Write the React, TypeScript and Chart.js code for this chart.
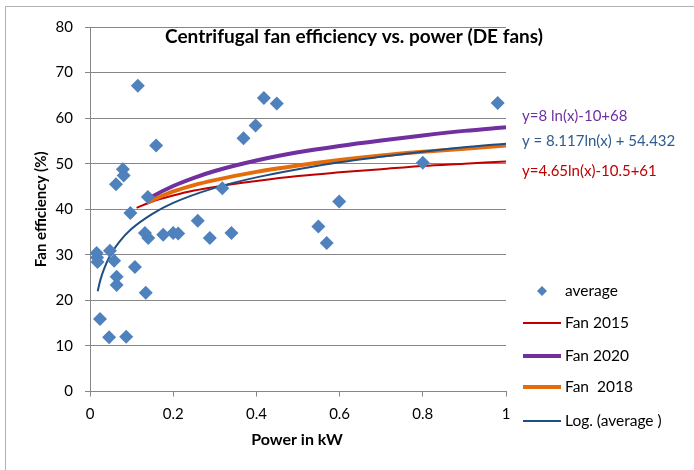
import React, { useEffect, useRef } from "react";
import { Chart, registerables } from "chart.js";

Chart.register(...registerables);

const avgX = [0.115, 0.159, 0.079, 0.081, 0.0625, 0.139, 0.097, 0.318, 0.369, 0.398, 0.418, 0.449, 0.98, 0.8, 0.599, 0.549, 0.569, 0.259, 0.288, 0.34, 0.132, 0.14, 0.176, 0.2, 0.212, 0.108, 0.134, 0.064, 0.064, 0.058, 0.048, 0.016, 0.017, 0.018, 0.024, 0.046, 0.087];
const avgY = [67.1, 54.0, 48.8, 47.4, 45.5, 42.7, 39.2, 44.6, 55.6, 58.4, 64.4, 63.2, 63.3, 50.2, 41.7, 36.2, 32.6, 37.5, 33.7, 34.8, 34.8, 33.7, 34.4, 34.8, 34.7, 27.3, 21.7, 25.2, 23.4, 28.7, 30.9, 30.4, 29.4, 28.4, 15.9, 11.9, 12.0];

const fan2015X = [0.112, 0.15, 0.2, 0.25, 0.3, 0.4, 0.5, 0.6, 0.7, 0.8, 0.9, 1.0];
const fan2015Y = [40.3, 41.7, 43.0, 44.1, 44.9, 46.2, 47.3, 48.1, 48.8, 49.5, 50.0, 50.5];

const fan2020X = [0.136, 0.15, 0.2, 0.25, 0.3, 0.4, 0.5, 0.6, 0.7, 0.8, 0.9, 1.0];
const fan2020Y = [42.0, 42.8, 45.1, 46.9, 48.4, 50.7, 52.5, 53.9, 55.1, 56.2, 57.2, 58.0];

const fan2018X = [0.136, 0.15, 0.2, 0.25, 0.3, 0.4, 0.5, 0.6, 0.7, 0.8, 0.9, 1.0];
const fan2018Y = [41.4, 42.0, 43.9, 45.3, 46.4, 48.2, 49.6, 50.8, 51.8, 52.6, 53.3, 54.0];

const logX = [0.0185, 0.025, 0.035, 0.05, 0.07, 0.1, 0.15, 0.2, 0.3, 0.4, 0.5, 0.6, 0.7, 0.8, 0.9, 1.0];
const logY = [22.0, 24.5, 27.2, 30.1, 32.8, 35.7, 39.0, 41.4, 44.7, 47.0, 48.8, 50.3, 51.5, 52.6, 53.6, 54.4];

const seriesNames = ["average", "Fan 2015", "Fan 2020", "Fan  2018", "Log. (average )"];
const titleText = "Centrifugal fan efficiency vs. power (DE fans)";
const xTitle = "Power in kW";
const yTitle = "Fan efficiency (%)";
const equations = ["y=8 ln(x)-10+68", "y = 8.117ln(x) + 54.432", "y=4.65ln(x)-10.5+61"];

const FONT = "Lato, 'Liberation Sans', Arial, sans-serif";
const C_AVG = "#4F81BD";
const C_2015 = "#C00000";
const C_2020 = "#7030A0";
const C_2018 = "#E46C0A";
const C_LOG = "#1F4E84";

const pts = (xs: number[], ys: number[]) => xs.map((x, i) => ({ x, y: ys[i] }));

export default function App() {
  const ref = useRef<HTMLCanvasElement>(null);
  useEffect(() => {
    if (!ref.current) return;
    const decor = {
      id: "decor",
      afterDraw(chart: any) {
        const ctx = chart.ctx;
        const ca = chart.chartArea;
        ctx.save();
        // outer border
        ctx.strokeStyle = "#B0B0B0";
        ctx.lineWidth = 1;
        ctx.beginPath();
        ctx.moveTo(5.5, 470);
        ctx.lineTo(5.5, 6.5);
        ctx.lineTo(694, 6.5);
        ctx.stroke();
        // title
        ctx.fillStyle = "#000";
        ctx.font = `bold 19px ${FONT}`;
        ctx.textAlign = "center";
        ctx.textBaseline = "middle";
        ctx.fillText(titleText, 354, 37);
        // axis titles
        ctx.font = `bold 16px ${FONT}`;
        ctx.fillText(xTitle, 297, 440);
        ctx.save();
        ctx.font = `bold 15px ${FONT}`;
        ctx.translate(41, (ca.top + ca.bottom) / 2);
        ctx.rotate(-Math.PI / 2);
        ctx.fillText(yTitle, 0, 0);
        ctx.restore();
        // equations
        ctx.font = `15px ${FONT}`;
        ctx.textAlign = "left";
        const eqCols = [C_2020, "#2E5C8E", C_2015];
        const eqY = [116, 141, 171];
        equations.forEach((t, i) => {
          ctx.fillStyle = eqCols[i];
          ctx.fillText(t, 522, eqY[i]);
        });
        // legend
        const legY = [291, 323, 356, 387, 421];
        const ds = chart.data.datasets;
        ctx.font = `15.5px ${FONT}`;
        seriesNames.forEach((name, i) => {
          const y = legY[i];
          if (i === 0) {
            ctx.fillStyle = C_AVG;
            ctx.beginPath();
            ctx.moveTo(542, y - 5);
            ctx.lineTo(547, y);
            ctx.lineTo(542, y + 5);
            ctx.lineTo(537, y);
            ctx.closePath();
            ctx.fill();
          } else {
            ctx.strokeStyle = ds[i].borderColor;
            ctx.lineWidth = ds[i].borderWidth;
            ctx.beginPath();
            ctx.moveTo(523, y);
            ctx.lineTo(561, y);
            ctx.stroke();
          }
          ctx.fillStyle = "#000";
          ctx.fillText(name, 565, y);
        });
        ctx.restore();
      },
    };
    const lineDs = (label: string, xs: number[], ysv: number[], color: string, w: number) => ({
      type: "line" as const,
      label,
      data: pts(xs, ysv),
      borderColor: color,
      backgroundColor: color,
      borderWidth: w,
      pointRadius: 0,
      showLine: true,
      fill: false,
      cubicInterpolationMode: "monotone" as const,
    });
    const chart = new Chart(ref.current, {
      type: "scatter",
      data: {
        datasets: [
          {
            label: seriesNames[0],
            data: pts(avgX, avgY),
            pointStyle: "rectRot",
            pointRadius: 7,
            backgroundColor: C_AVG,
            borderColor: C_AVG,
            borderWidth: 0,
            order: 0,
          } as any,
          { ...lineDs(seriesNames[1], fan2015X, fan2015Y, C_2015, 2), order: 4 },
          { ...lineDs(seriesNames[2], fan2020X, fan2020Y, C_2020, 4), order: 3 },
          { ...lineDs(seriesNames[3], fan2018X, fan2018Y, C_2018, 4), order: 2 },
          { ...lineDs(seriesNames[4], logX, logY, C_LOG, 2), order: 1 },
        ],
      },
      options: {
        animation: false,
        responsive: false,
        maintainAspectRatio: false,
        layout: { padding: { left: 0, right: 188, top: 27, bottom: 0 } },
        plugins: { legend: { display: false }, tooltip: { enabled: false }, title: { display: false } },
        scales: {
          x: {
            type: "linear",
            min: 0,
            max: 1,
            afterFit: (s: any) => { s.height = 78.5; },
            ticks: {
              stepSize: 0.2,
              color: "#000",
              font: { family: FONT, size: 15 },
              padding: 9,
              callback: (v: any) => String(Math.round(Number(v) * 10) / 10),
            },
            grid: { drawOnChartArea: false, drawTicks: true, tickLength: 5, color: "#868686" },
            border: { color: "#868686", width: 1 },
          },
          y: {
            type: "linear",
            min: 0,
            max: 80,
            afterFit: (s: any) => { s.width = 90; },
            ticks: { stepSize: 10, color: "#000", font: { family: FONT, size: 15 }, padding: 12 },
            grid: { drawOnChartArea: true, drawTicks: true, tickLength: 5, color: "#868686" },
            border: { color: "#868686", width: 1 },
          },
        },
      },
      plugins: [decor],
    } as any);
    return () => chart.destroy();
  }, []);
  return (
    <div style={{ position: "fixed", left: 0, top: 0, width: 694, height: 470, background: "#fff" }}>
      <canvas ref={ref} width={694} height={470} style={{ width: 694, height: 470, display: "block" }} />
    </div>
  );
}
